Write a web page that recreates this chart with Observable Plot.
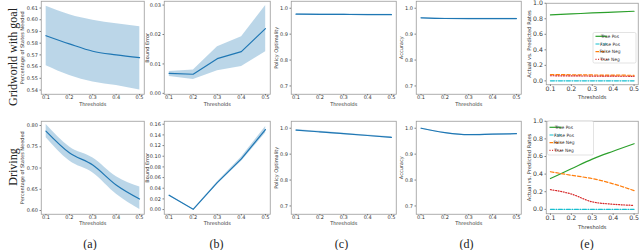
<!DOCTYPE html>
<html><head><meta charset="utf-8">
<script src="https://cdn.jsdelivr.net/npm/d3@7"></script>
<script src="https://cdn.jsdelivr.net/npm/@observablehq/plot@0.6"></script>
<style>
body{margin:0;background:#fff;}
#fig{position:relative;width:640px;height:250px;overflow:hidden;background:#fff;}
.serif{position:absolute;font-family:"Liberation Serif","Times New Roman",serif;font-size:12px;color:#222;white-space:nowrap;line-height:1;}
</style></head><body><div id="fig"></div>
<script>
// ---------- data ----------
const thresholds = [0.1, 0.2, 0.3, 0.4, 0.5];
const rowLabels = ["Gridworld with goal", "Driving"];
const panelLetters = ["(a)", "(b)", "(c)", "(d)", "(e)"];
const seriesNames = ["True Pos", "False Pos", "False Neg", "True Neg"];

// Gridworld with goal
const gwStatesMean = [0.5864, 0.5794, 0.5731, 0.5700, 0.5676];
const gwStatesLow  = [0.5610, 0.5527, 0.5470, 0.5440, 0.5402];
const gwStatesHigh = [0.6117, 0.6045, 0.5998, 0.5968, 0.5942];
const gwErrMean = [0.0068, 0.0065, 0.0118, 0.0142, 0.0220];
const gwErrLow  = [0.0058, 0.0048, 0.0078, 0.0092, 0.0142];
const gwErrHigh = [0.0075, 0.0080, 0.0159, 0.0193, 0.0299];
const gwOptMean = [0.9770, 0.9765, 0.9760, 0.9755, 0.9750];
const gwOptLow  = [0.9745, 0.9740, 0.9735, 0.9730, 0.9725];
const gwOptHigh = [0.9795, 0.9790, 0.9785, 0.9780, 0.9775];
const gwAccMean = [0.9630, 0.9605, 0.9600, 0.9600, 0.9600];
const gwAccLow  = [0.9610, 0.9585, 0.9580, 0.9580, 0.9580];
const gwAccHigh = [0.9650, 0.9625, 0.9620, 0.9620, 0.9620];
const gwTP = [0.850, 0.862, 0.875, 0.886, 0.897];
const gwFP = [0.000, 0.000, 0.000, 0.000, 0.000];
const gwFN = [0.082, 0.079, 0.076, 0.074, 0.072];
const gwTN = [0.066, 0.064, 0.062, 0.060, 0.059];

// Driving
const drStatesMean = [0.787, 0.736, 0.707, 0.660, 0.627];
const drStatesLow  = [0.772, 0.717, 0.689, 0.639, 0.603];
const drStatesHigh = [0.803, 0.750, 0.724, 0.680, 0.656];
const drErrMean = [0.0268, 0.0005, 0.0505, 0.0950, 0.1500];
const drErrLow  = [0.0255, 0.0000, 0.0485, 0.0910, 0.1440];
const drErrHigh = [0.0281, 0.0010, 0.0525, 0.0990, 0.1560];
const drOptMean = [0.993, 0.986, 0.979, 0.972, 0.965];
const drOptLow  = [0.990, 0.983, 0.976, 0.969, 0.962];
const drOptHigh = [0.996, 0.989, 0.982, 0.975, 0.968];
const drAccMean = [1.000, 0.983, 0.975, 0.977, 0.979];
const drAccLow  = [0.998, 0.981, 0.973, 0.975, 0.977];
const drAccHigh = [1.002, 0.985, 0.977, 0.979, 0.981];
const drTP = [0.350, 0.460, 0.570, 0.660, 0.745];
const drFP = [0.000, 0.000, 0.000, 0.000, 0.000];
const drFN = [0.427, 0.387, 0.349, 0.290, 0.213];
const drTN = [0.224, 0.174, 0.085, 0.058, 0.045];

// tick labels
const gwStatesTicks = [0.54, 0.55, 0.56, 0.57, 0.58, 0.59, 0.60, 0.61];
const gwErrTicks = [0.00, 0.01, 0.02, 0.03];
const drStatesTicks = [0.60, 0.65, 0.70, 0.75, 0.80];
const drErrTicks = [0.00, 0.02, 0.04, 0.06, 0.08, 0.10, 0.12, 0.14, 0.16];
const optTicks = [0.7, 0.8, 0.9, 1.0];
const rateTicks = [0.0, 0.2, 0.4, 0.6, 0.8, 1.0];

// ---------- drawing ----------
// Panels are drawn at S× size and scaled down with CSS so that tiny fonts are not clamped.
const S = 2;
const fig = document.getElementById("fig");
const BLUE = "#1f77b4";
const rateStyles = [
  {stroke: "#2ca02c", dash: null},
  {stroke: "#17becf", dash: [4, 1.5, 1, 1.5]},
  {stroke: "#ff7f0e", dash: [3.5, 2]},
  {stroke: "#d62728", dash: [1, 1.6]}
];
const dashStr = d => d ? d.map(v => v * S).join(",") : null;

function bandMarks(mean, lo, hi, curve) {
  const data = thresholds.map((t, i) => ({t, m: mean[i], lo: lo[i], hi: hi[i]}));
  return [
    Plot.areaY(data, {x: "t", y1: "lo", y2: "hi", fill: BLUE, fillOpacity: 0.3, curve}),
    Plot.lineY(data, {x: "t", y: "m", stroke: BLUE, strokeWidth: 1.2 * S, curve})
  ];
}
function rateMarks(series) {
  return series.map((vals, k) => Plot.lineY(thresholds.map((t, i) => ({t, v: vals[i]})), {
    x: "t", y: "v", stroke: rateStyles[k].stroke, strokeWidth: 1.2 * S,
    strokeDasharray: dashStr(rateStyles[k].dash), curve: "monotone-x"
  }));
}

function makePanel(o) {
  const [x0, y0, x1, y1] = o.frame;
  const ml = 40, mr = 3, mt = Math.min(4, y0), mb = 22;
  const svg = Plot.plot({
    width: (x1 - x0 + ml + mr) * S, height: (y1 - y0 + mt + mb) * S,
    marginLeft: ml * S, marginRight: mr * S, marginTop: mt * S, marginBottom: mb * S,
    style: {fontFamily: "DejaVu Sans", background: "transparent", color: "#333", overflow: "visible", maxWidth: "none"},
    x: {domain: [0.08, 0.52], label: null},
    y: {domain: o.yDomain, label: null},
    marks: [
      ...o.marks,
      Plot.frame({stroke: "#9a9a9a", strokeWidth: 0.8 * S}),
      Plot.axisX({ticks: thresholds, tickFormat: d3.format(".1f"), tickSize: 1.5 * S, tickPadding: o.xPad * S,
        strokeWidth: 0.6 * S, fontSize: o.tickFs * S, label: null}),
      Plot.axisY({ticks: o.yTicks, tickFormat: d3.format(o.yFmt), tickSize: 1.5 * S, tickPadding: 1.8 * S,
        strokeWidth: 0.6 * S, fontSize: o.tickFs * S, label: null}),
      Plot.text(["Thresholds"], {text: d => d, frameAnchor: "bottom", dy: o.xlDy * S, fontSize: o.labFs * S,
        textAnchor: "middle", lineAnchor: "middle"}),
      Plot.text([o.ylabel], {text: d => d, frameAnchor: "left", dx: o.ylDx * S, rotate: -90, fontSize: o.labFs * S,
        textAnchor: "middle", lineAnchor: "middle"})
    ]
  });
  svg.style.position = "absolute";
  svg.style.left = (x0 - ml) + "px";
  svg.style.top = (y0 - mt) + "px";
  svg.style.transformOrigin = "0 0";
  svg.style.transform = `scale(${1 / S})`;
  fig.appendChild(svg);
  svg._off = [x0 - ml, y0 - mt];
  return svg;
}

function addLegend(svg, box, fs) {
  const [ox, oy] = svg._off;
  const g = d3.select(svg).append("g").attr("transform", `translate(${(box.x - ox) * S},${(box.y - oy) * S})`);
  g.append("rect").attr("width", box.w * S).attr("height", box.h * S).attr("rx", 1.5 * S)
    .attr("fill", "white").attr("fill-opacity", 0.85).attr("stroke", "#d0d0d0").attr("stroke-width", 0.6 * S);
  seriesNames.forEach((name, k) => {
    const yy = (box.pad + k * box.step) * S;
    g.append("line").attr("x1", box.lx0 * S).attr("x2", box.lx1 * S).attr("y1", yy).attr("y2", yy)
      .attr("stroke", rateStyles[k].stroke).attr("stroke-width", 1.2 * S)
      .attr("stroke-dasharray", dashStr(rateStyles[k].dash));
    g.append("text").attr("x", box.tx * S).attr("y", yy).attr("dy", "0.35em")
      .attr("font-size", fs * S).attr("fill", "#333").attr("font-family", "DejaVu Sans").text(name);
  });
}

const small = {tickFs: 5, labFs: 5, xPad: 0};
const xo = [41, 164, 291, 416];
const xe = [144, 270, 396, 521];

// Row 1: Gridworld with goal
makePanel({...small, frame: [xo[0], 1, xe[0], 94], yDomain: [0.5364, 0.6158], yTicks: gwStatesTicks, yFmt: ".2f",
  ylabel: "Percentage of States Needed", xlDy: 10, ylDx: -18.5, marks: bandMarks(gwStatesMean, gwStatesLow, gwStatesHigh, "monotone-x")});
makePanel({...small, frame: [xo[1], 1, xe[1], 94], yDomain: [-0.0003, 0.0313], yTicks: gwErrTicks, yFmt: ".2f",
  ylabel: "Bound Error", xlDy: 10, ylDx: -17.3, marks: bandMarks(gwErrMean, gwErrLow, gwErrHigh, "linear")});
makePanel({...small, frame: [xo[2], 1, xe[2], 94], yDomain: [0.668, 1.027], yTicks: optTicks, yFmt: ".1f",
  ylabel: "Policy Optimality", xlDy: 10, ylDx: -15, marks: bandMarks(gwOptMean, gwOptLow, gwOptHigh, "monotone-x")});
makePanel({...small, frame: [xo[3], 1, xe[3], 94], yDomain: [0.668, 1.027], yTicks: optTicks, yFmt: ".1f",
  ylabel: "Accuracy", xlDy: 10, ylDx: -15, marks: bandMarks(gwAccMean, gwAccLow, gwAccHigh, "monotone-x")});
const e1 = makePanel({tickFs: 6.2, labFs: 5.2, xPad: 0, frame: [546, 3, 638, 84.5], yDomain: [-0.05, 1.0], yTicks: rateTicks, yFmt: ".1f",
  ylabel: "Actual vs. Predicted Rates", xlDy: 12.8, ylDx: -17, marks: rateMarks([gwTP, gwFP, gwFN, gwTN])});
addLegend(e1, {x: 593, y: 32.5, w: 43, h: 30.5, pad: 3.8, step: 7.7, lx0: 2.5, lx1: 14, tx: 17}, 4.4);

// Row 2: Driving
makePanel({...small, frame: [xo[0], 121, xe[0], 214], yDomain: [0.5912, 0.8101], yTicks: drStatesTicks, yFmt: ".2f",
  ylabel: "Percentage of States Needed", xlDy: 9.5, ylDx: -18.5, marks: bandMarks(drStatesMean, drStatesLow, drStatesHigh, "monotone-x")});
makePanel({...small, frame: [xo[1], 121, xe[1], 214], yDomain: [-0.0088, 0.1656], yTicks: drErrTicks, yFmt: ".2f",
  ylabel: "Bound Error", xlDy: 9.5, ylDx: -17, marks: bandMarks(drErrMean, drErrLow, drErrHigh, "linear")});
makePanel({...small, frame: [xo[2], 121, xe[2], 214], yDomain: [0.668, 1.027], yTicks: optTicks, yFmt: ".1f",
  ylabel: "Policy Optimality", xlDy: 9.5, ylDx: -15, marks: bandMarks(drOptMean, drOptLow, drOptHigh, "monotone-x")});
makePanel({...small, frame: [xo[3], 121, xe[3], 214], yDomain: [0.668, 1.027], yTicks: optTicks, yFmt: ".1f",
  ylabel: "Accuracy", xlDy: 9.5, ylDx: -14.5, marks: bandMarks(drAccMean, drAccLow, drAccHigh, "monotone-x")});
const e2 = makePanel({tickFs: 6.2, labFs: 5.2, xPad: 0, frame: [546, 121, 638, 213.5], yDomain: [-0.05, 1.0], yTicks: rateTicks, yFmt: ".1f",
  ylabel: "Actual vs. Predicted Rates", xlDy: 13.5, ylDx: -16.7, marks: rateMarks([drTP, drFP, drFN, drTN])});
addLegend(e2, {x: 547.5, y: 121, w: 46, h: 34, pad: 6.3, step: 7.7, lx0: 2, lx1: 14, tx: 16.5}, 4.4);

// Row labels and panel letters
const rowCenters = [57, 167];
rowLabels.forEach((txt, i) => {
  const d = document.createElement("div");
  d.className = "serif";
  d.textContent = txt;
  d.style.left = "13px"; d.style.top = rowCenters[i] + "px";
  d.style.transform = "translate(-50%,-50%) rotate(-90deg)";
  fig.appendChild(d);
});
const letterX = [90, 216.5, 341.5, 466.5, 587];
panelLetters.forEach((txt, i) => {
  const d = document.createElement("div");
  d.className = "serif";
  d.textContent = txt;
  d.style.left = letterX[i] + "px"; d.style.top = "244px";
  d.style.transform = "translate(-50%,-50%)";
  fig.appendChild(d);
});
</script></body></html>
